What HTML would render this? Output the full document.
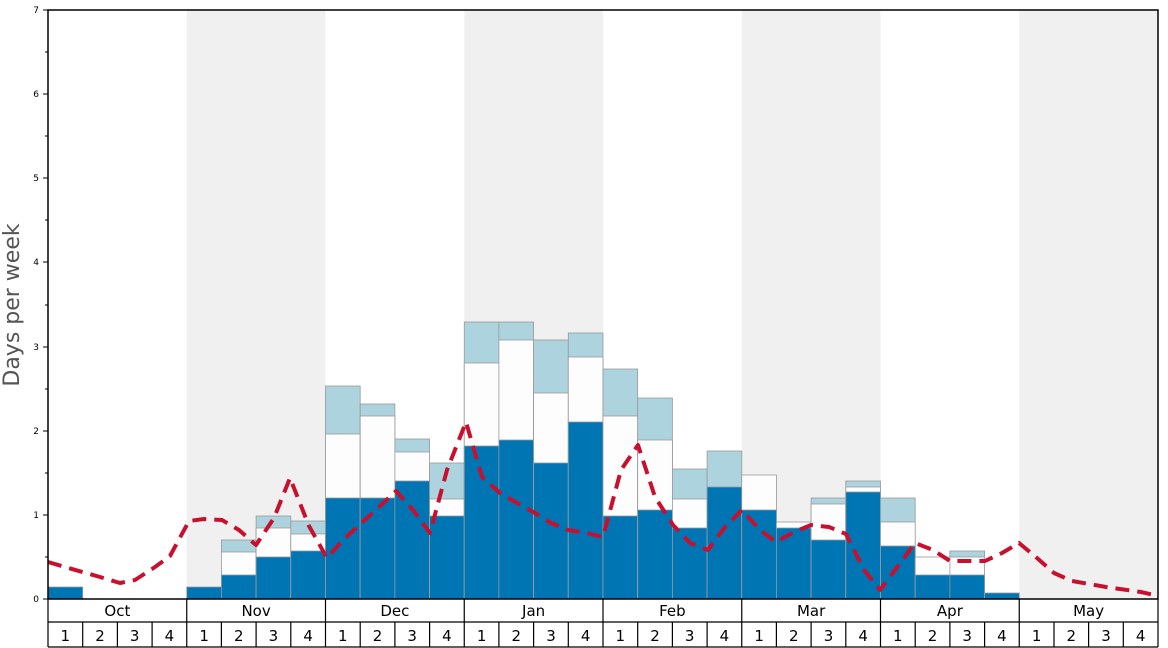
<!DOCTYPE html>
<html><head><meta charset="utf-8"><style>
html,body{margin:0;padding:0;background:#fff}
svg{display:block;font-family:"DejaVu Sans","Liberation Sans",sans-serif}
</style></head><body>
<svg width="1168" height="648" viewBox="0 0 1168 648" xmlns="http://www.w3.org/2000/svg">
<rect x="0" y="0" width="1168" height="648" fill="#fff"/>
<!-- shaded months -->
<rect x="186.75" y="10" width="138.75" height="589" fill="#f0f0f0"/>
<rect x="464.25" y="10" width="138.75" height="589" fill="#f0f0f0"/>
<rect x="741.75" y="10" width="138.75" height="589" fill="#f0f0f0"/>
<rect x="1019.25" y="10" width="138.75" height="589" fill="#f0f0f0"/>
<g stroke="#999" stroke-width="0.8">
<!-- Oct1 -->
<rect x="48" y="587" width="34.69" height="12" fill="#0075b4"/>
<!-- Nov -->
<rect x="186.75" y="587" width="34.69" height="12" fill="#0075b4"/>
<rect x="221.4" y="540" width="34.69" height="59" fill="#add3df"/><rect x="221.4" y="552" width="34.69" height="47" fill="#fdfdfd"/><rect x="221.4" y="575" width="34.69" height="24" fill="#0075b4"/>
<rect x="256.1" y="516" width="34.69" height="83" fill="#add3df"/><rect x="256.1" y="528" width="34.69" height="71" fill="#fdfdfd"/><rect x="256.1" y="557" width="34.69" height="42" fill="#0075b4"/>
<rect x="290.8" y="521" width="34.69" height="78" fill="#add3df"/><rect x="290.8" y="534" width="34.69" height="65" fill="#fdfdfd"/><rect x="290.8" y="551" width="34.69" height="48" fill="#0075b4"/>
<!-- Dec -->
<rect x="325.5" y="386" width="34.69" height="213" fill="#add3df"/><rect x="325.5" y="434" width="34.69" height="165" fill="#fdfdfd"/><rect x="325.5" y="498" width="34.69" height="101" fill="#0075b4"/>
<rect x="360.2" y="404" width="34.69" height="195" fill="#add3df"/><rect x="360.2" y="416" width="34.69" height="183" fill="#fdfdfd"/><rect x="360.2" y="498" width="34.69" height="101" fill="#0075b4"/>
<rect x="394.9" y="439" width="34.69" height="160" fill="#add3df"/><rect x="394.9" y="452" width="34.69" height="147" fill="#fdfdfd"/><rect x="394.9" y="481" width="34.69" height="118" fill="#0075b4"/>
<rect x="429.6" y="463" width="34.69" height="136" fill="#add3df"/><rect x="429.6" y="499" width="34.69" height="100" fill="#fdfdfd"/><rect x="429.6" y="516" width="34.69" height="83" fill="#0075b4"/>
<!-- Jan -->
<rect x="464.25" y="322" width="34.69" height="277" fill="#add3df"/><rect x="464.25" y="363" width="34.69" height="236" fill="#fdfdfd"/><rect x="464.25" y="446" width="34.69" height="153" fill="#0075b4"/>
<rect x="498.9" y="322" width="34.69" height="277" fill="#add3df"/><rect x="498.9" y="340" width="34.69" height="259" fill="#fdfdfd"/><rect x="498.9" y="440" width="34.69" height="159" fill="#0075b4"/>
<rect x="533.6" y="340" width="34.69" height="259" fill="#add3df"/><rect x="533.6" y="393" width="34.69" height="206" fill="#fdfdfd"/><rect x="533.6" y="463" width="34.69" height="136" fill="#0075b4"/>
<rect x="568.3" y="333" width="34.69" height="266" fill="#add3df"/><rect x="568.3" y="357" width="34.69" height="242" fill="#fdfdfd"/><rect x="568.3" y="422" width="34.69" height="177" fill="#0075b4"/>
<!-- Feb -->
<rect x="603" y="369" width="34.69" height="230" fill="#add3df"/><rect x="603" y="416" width="34.69" height="183" fill="#fdfdfd"/><rect x="603" y="516" width="34.69" height="83" fill="#0075b4"/>
<rect x="637.7" y="398" width="34.69" height="201" fill="#add3df"/><rect x="637.7" y="440" width="34.69" height="159" fill="#fdfdfd"/><rect x="637.7" y="510" width="34.69" height="89" fill="#0075b4"/>
<rect x="672.4" y="469" width="34.69" height="130" fill="#add3df"/><rect x="672.4" y="499" width="34.69" height="100" fill="#fdfdfd"/><rect x="672.4" y="528" width="34.69" height="71" fill="#0075b4"/>
<rect x="707.1" y="451" width="34.69" height="148" fill="#add3df"/><rect x="707.1" y="487" width="34.69" height="112" fill="#0075b4"/>
<!-- Mar -->
<rect x="741.75" y="475" width="34.69" height="124" fill="#fdfdfd"/><rect x="741.75" y="510" width="34.69" height="89" fill="#0075b4"/>
<rect x="776.4" y="522" width="34.69" height="77" fill="#fdfdfd"/><rect x="776.4" y="528" width="34.69" height="71" fill="#0075b4"/>
<rect x="811.1" y="498" width="34.69" height="101" fill="#add3df"/><rect x="811.1" y="504" width="34.69" height="95" fill="#fdfdfd"/><rect x="811.1" y="540" width="34.69" height="59" fill="#0075b4"/>
<rect x="845.8" y="481" width="34.69" height="118" fill="#add3df"/><rect x="845.8" y="487" width="34.69" height="112" fill="#fdfdfd"/><rect x="845.8" y="492" width="34.69" height="107" fill="#0075b4"/>
<!-- Apr -->
<rect x="880.5" y="498" width="34.69" height="101" fill="#add3df"/><rect x="880.5" y="522" width="34.69" height="77" fill="#fdfdfd"/><rect x="880.5" y="546" width="34.69" height="53" fill="#0075b4"/>
<rect x="915.2" y="557" width="34.69" height="42" fill="#fdfdfd"/><rect x="915.2" y="575" width="34.69" height="24" fill="#0075b4"/>
<rect x="949.9" y="551" width="34.69" height="48" fill="#add3df"/><rect x="949.9" y="557" width="34.69" height="42" fill="#fdfdfd"/><rect x="949.9" y="575" width="34.69" height="24" fill="#0075b4"/>
<rect x="984.6" y="593" width="34.69" height="6" fill="#0075b4"/>
</g>
<!-- red dashed line -->
<polyline fill="none" stroke="#c8102e" stroke-width="4" stroke-dasharray="14,8" stroke-linejoin="round" stroke-linecap="butt"
points="48,562 65,567 100,577 120,583 135,580 155,567 170,556 189,521 204,519 222,520 239,530 256,545 274,518 290,478 309,526 327,558 343,540 378,508 396,491 413,510 430,533 447,470 466,422 482,477 500,493 517,503 535,513 551,523 568,530 586,533 603,537 621,470 638,445 655,497 673,525 690,543 708,550 725,527 742,510 760,530 776,542 794,532 811,525 829,527 846,534 864,570 880,590 898,566 915,543 933,550 950,561 968,561 985,561 1002,553 1019,543 1037,558 1054,573 1072,581 1106,587 1141,592 1158,596"/>
<!-- plot frame -->
<rect x="48" y="10" width="1110" height="589" fill="none" stroke="#000" stroke-width="1.5"/>
<!-- y ticks -->
<g stroke="#000" stroke-width="1">
<line x1="43" y1="599" x2="48" y2="599"/><line x1="45" y1="557" x2="48" y2="557"/>
<line x1="43" y1="515" x2="48" y2="515"/><line x1="45" y1="473" x2="48" y2="473"/>
<line x1="43" y1="431" x2="48" y2="431"/><line x1="45" y1="389" x2="48" y2="389"/>
<line x1="43" y1="347" x2="48" y2="347"/><line x1="45" y1="305" x2="48" y2="305"/>
<line x1="43" y1="262" x2="48" y2="262"/><line x1="45" y1="220" x2="48" y2="220"/>
<line x1="43" y1="178" x2="48" y2="178"/><line x1="45" y1="136" x2="48" y2="136"/>
<line x1="43" y1="94" x2="48" y2="94"/><line x1="45" y1="52" x2="48" y2="52"/>
<line x1="43" y1="10" x2="48" y2="10"/>
</g>
<g font-size="9" text-anchor="end" fill="#000">
<text x="39" y="602">0</text><text x="39" y="518">1</text><text x="39" y="434">2</text>
<text x="39" y="350">3</text><text x="39" y="265">4</text><text x="39" y="181">5</text>
<text x="39" y="97">6</text><text x="39" y="13">7</text>
</g>
<text transform="translate(19,305) rotate(-90)" font-size="22" fill="#555" text-anchor="middle">Days per week</text>
<!-- bottom axis -->
<g stroke="#000" stroke-width="1.2" fill="none">
<line x1="48" y1="622" x2="1158" y2="622"/><line x1="48" y1="647" x2="1158" y2="647"/>
<line x1="48" y1="599" x2="48" y2="647"/><line x1="1158" y1="599" x2="1158" y2="647"/>
<line x1="186.75" y1="599" x2="186.75" y2="647"/><line x1="325.5" y1="599" x2="325.5" y2="647"/>
<line x1="464.25" y1="599" x2="464.25" y2="647"/><line x1="603" y1="599" x2="603" y2="647"/>
<line x1="741.75" y1="599" x2="741.75" y2="647"/><line x1="880.5" y1="599" x2="880.5" y2="647"/>
<line x1="1019.25" y1="599" x2="1019.25" y2="647"/>
<line x1="82.7" y1="622" x2="82.7" y2="647"/><line x1="117.4" y1="622" x2="117.4" y2="647"/><line x1="152.1" y1="622" x2="152.1" y2="647"/>
<line x1="221.4" y1="622" x2="221.4" y2="647"/><line x1="256.1" y1="622" x2="256.1" y2="647"/><line x1="290.8" y1="622" x2="290.8" y2="647"/>
<line x1="360.2" y1="622" x2="360.2" y2="647"/><line x1="394.9" y1="622" x2="394.9" y2="647"/><line x1="429.6" y1="622" x2="429.6" y2="647"/>
<line x1="498.9" y1="622" x2="498.9" y2="647"/><line x1="533.6" y1="622" x2="533.6" y2="647"/><line x1="568.3" y1="622" x2="568.3" y2="647"/>
<line x1="637.7" y1="622" x2="637.7" y2="647"/><line x1="672.4" y1="622" x2="672.4" y2="647"/><line x1="707.1" y1="622" x2="707.1" y2="647"/>
<line x1="776.4" y1="622" x2="776.4" y2="647"/><line x1="811.1" y1="622" x2="811.1" y2="647"/><line x1="845.8" y1="622" x2="845.8" y2="647"/>
<line x1="915.2" y1="622" x2="915.2" y2="647"/><line x1="949.9" y1="622" x2="949.9" y2="647"/><line x1="984.6" y1="622" x2="984.6" y2="647"/>
<line x1="1054" y1="622" x2="1054" y2="647"/><line x1="1088.6" y1="622" x2="1088.6" y2="647"/><line x1="1123.3" y1="622" x2="1123.3" y2="647"/>
</g>
<g font-size="15" text-anchor="middle" fill="#000">
<text x="117.4" y="616">Oct</text><text x="256.1" y="616">Nov</text><text x="394.9" y="616">Dec</text>
<text x="533.6" y="616">Jan</text><text x="672.4" y="616">Feb</text><text x="811.1" y="616">Mar</text>
<text x="949.9" y="616">Apr</text><text x="1088.6" y="616">May</text>
</g>
<g font-size="15" text-anchor="middle" fill="#000">
<text x="65.3" y="641">1</text><text x="100" y="641">2</text><text x="134.7" y="641">3</text><text x="169.4" y="641">4</text>
<text x="204.1" y="641">1</text><text x="238.8" y="641">2</text><text x="273.4" y="641">3</text><text x="308.1" y="641">4</text>
<text x="342.8" y="641">1</text><text x="377.5" y="641">2</text><text x="412.2" y="641">3</text><text x="446.9" y="641">4</text>
<text x="481.6" y="641">1</text><text x="516.3" y="641">2</text><text x="551" y="641">3</text><text x="585.7" y="641">4</text>
<text x="620.3" y="641">1</text><text x="655" y="641">2</text><text x="689.7" y="641">3</text><text x="724.4" y="641">4</text>
<text x="759.1" y="641">1</text><text x="793.8" y="641">2</text><text x="828.5" y="641">3</text><text x="863.2" y="641">4</text>
<text x="897.8" y="641">1</text><text x="932.5" y="641">2</text><text x="967.2" y="641">3</text><text x="1001.9" y="641">4</text>
<text x="1036.6" y="641">1</text><text x="1071.3" y="641">2</text><text x="1106" y="641">3</text><text x="1140.7" y="641">4</text>
</g>
</svg>
</body></html>
